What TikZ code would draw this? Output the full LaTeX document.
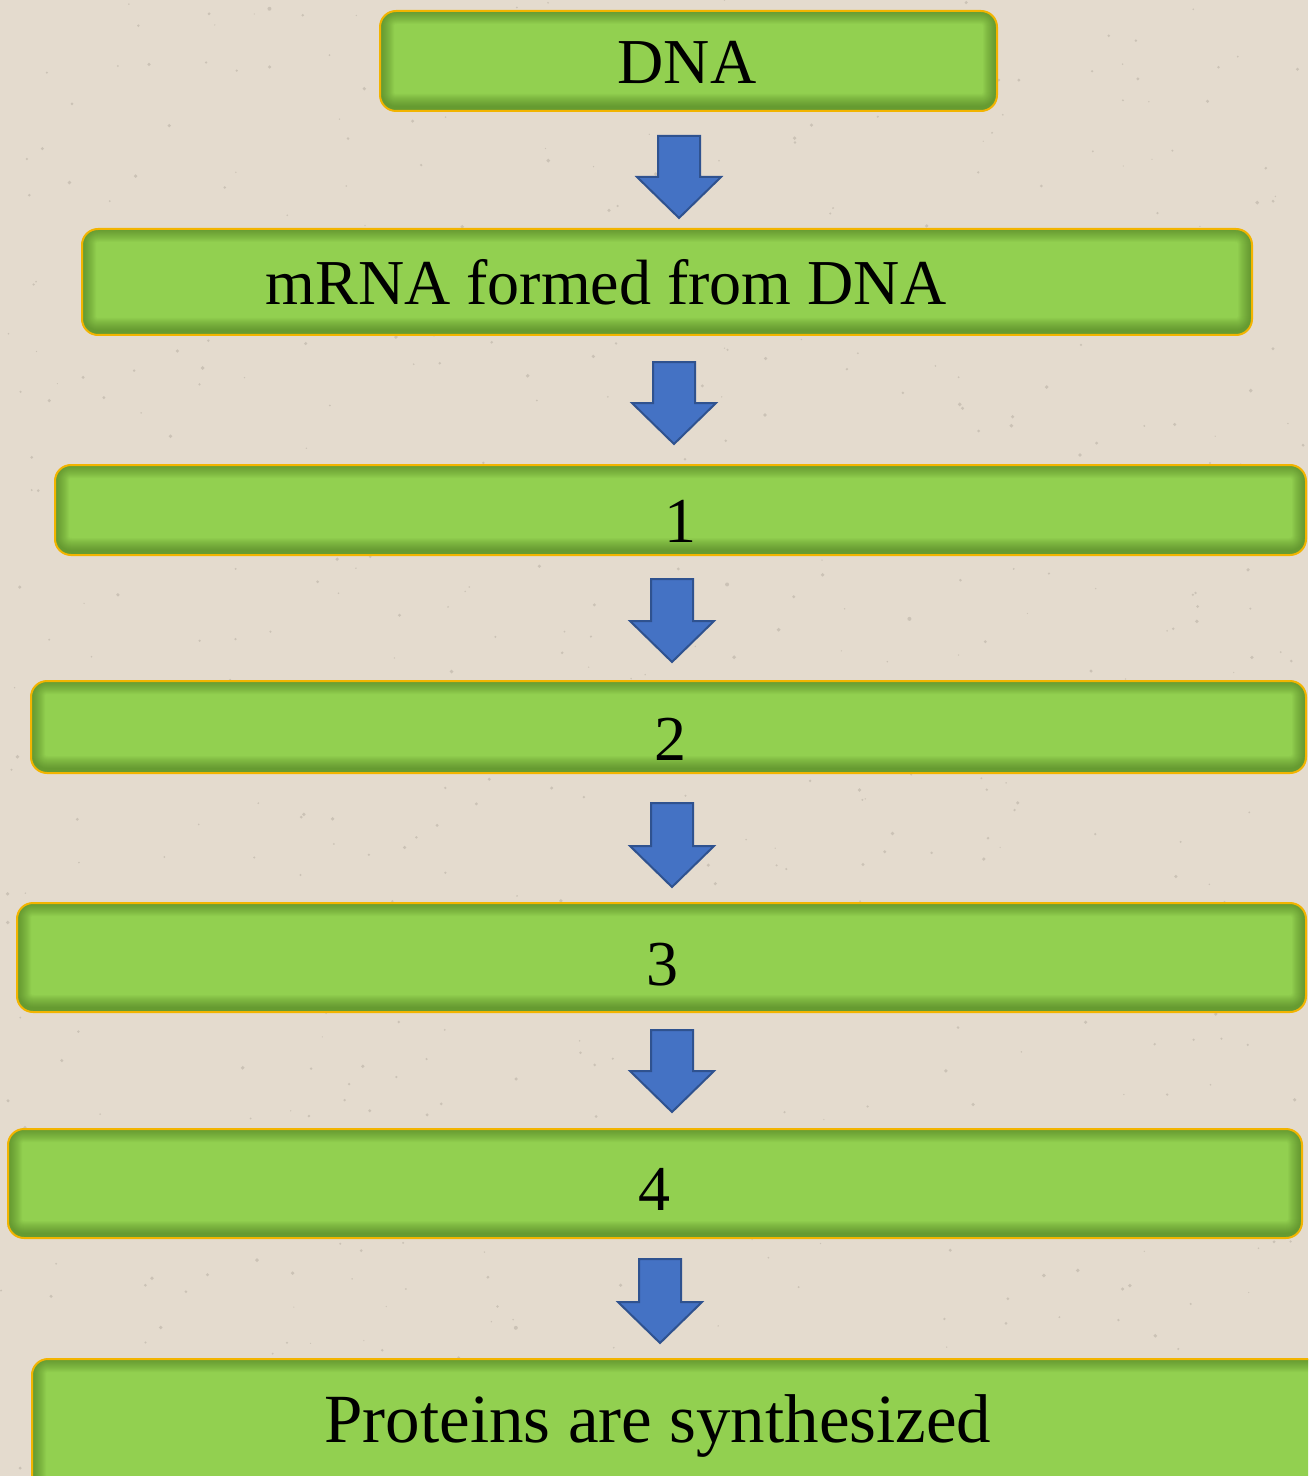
\documentclass[tikz,border=0pt]{standalone}
\usepackage{fontspec}
\setmainfont{Liberation Serif}
\definecolor{bgc}{HTML}{E4DBCE}
\definecolor{speck}{HTML}{9E968A}
\definecolor{boxgreen}{HTML}{92D050}
\definecolor{boxshadow}{HTML}{3A6214}
\definecolor{boxline}{HTML}{F2B400}
\definecolor{arrowfill}{HTML}{4472C4}
\definecolor{arrowline}{HTML}{2F528F}
\tikzset{
  gbox/.style={draw=boxline, line width=1pt, fill=boxgreen, rounded corners=8pt,
    inner sep=0pt, rectangle,
    path picture={
      \foreach \w in {2,3,...,14}{
        \draw[line width=\w pt, boxshadow, opacity=0.045, rounded corners=8pt]
          ([yshift=1.5pt]path picture bounding box.south west) rectangle
          ([yshift=0.5pt]path picture bounding box.north east);
      }
    }},
  lbl/.style={anchor=base, inner sep=0pt, font=\fontsize{32}{38}\selectfont, text=black},
  blk/.style={fill=arrowfill, draw=arrowline, line width=1pt, line join=miter}
}
\newcommand{\blkarrow}[4]{% name, x, ytop, ytip
  \coordinate (#1) at (#2,#3);
  \draw[blk] ({#2-21},#3) -- ({#2+21},#3) -- ({#2+21},{#4-41}) -- ({#2+42},{#4-41})
    -- (#2,#4) -- ({#2-42},{#4-41}) -- ({#2-21},{#4-41}) -- cycle;
}
\begin{document}
\begin{tikzpicture}[x=0.5pt, y=-0.5pt]
\useasboundingbox (0,0) rectangle (1308,1476);
\clip (0,0) rectangle (1308,1476);
\fill[bgc] (0,0) rectangle (1308,1476);
\pgfmathsetseed{11}
\foreach \i in {1,...,700}{
  \pgfmathsetmacro{\px}{rnd*1308}
  \pgfmathsetmacro{\py}{rnd*1476}
  \pgfmathsetmacro{\pr}{0.6+rnd*1.4}
  \fill[speck, opacity=0.35] (\px,\py) circle[radius=\pr];
}
% boxes
\node[gbox, minimum width=308.5pt, minimum height=50pt] (b0) at (688.5,61) {};
\node[gbox, minimum width=585pt, minimum height=53pt] (b1) at (667,282) {};
\node[gbox, minimum width=625.5pt, minimum height=45pt] (b2) at (680.5,510) {};
\node[gbox, minimum width=637.5pt, minimum height=46pt] (b3) at (668.5,727) {};
\node[gbox, minimum width=644.5pt, minimum height=54.5pt] (b4) at (661.5,957.5) {};
\node[gbox, minimum width=647pt, minimum height=54.5pt] (b5) at (655,1183.5) {};
\node[gbox, minimum width=654pt, minimum height=70.5pt] (b6) at (686,1429.5) {};
% texts
\node[lbl] (t0) at (687,84) {DNA};
\node[lbl] (t1) at (606,305) {mRNA formed from DNA};
\node[lbl] (t2) at (680,542) {1};
\node[lbl] (t3) at (670,760) {2};
\node[lbl] (t4) at (662,985) {3};
\node[lbl] (t5) at (654,1210) {4};
\node[lbl, font=\fontsize{34.5}{40}\selectfont] (t6) at (658,1442) {Proteins are synthesized};
% arrows
\blkarrow{a1}{679}{136}{218}
\blkarrow{a2}{674}{362}{444}
\blkarrow{a3}{672}{579}{662}
\blkarrow{a4}{672}{803}{887}
\blkarrow{a5}{672}{1030}{1112}
\blkarrow{a6}{660}{1259}{1343}
\end{tikzpicture}
\end{document}
